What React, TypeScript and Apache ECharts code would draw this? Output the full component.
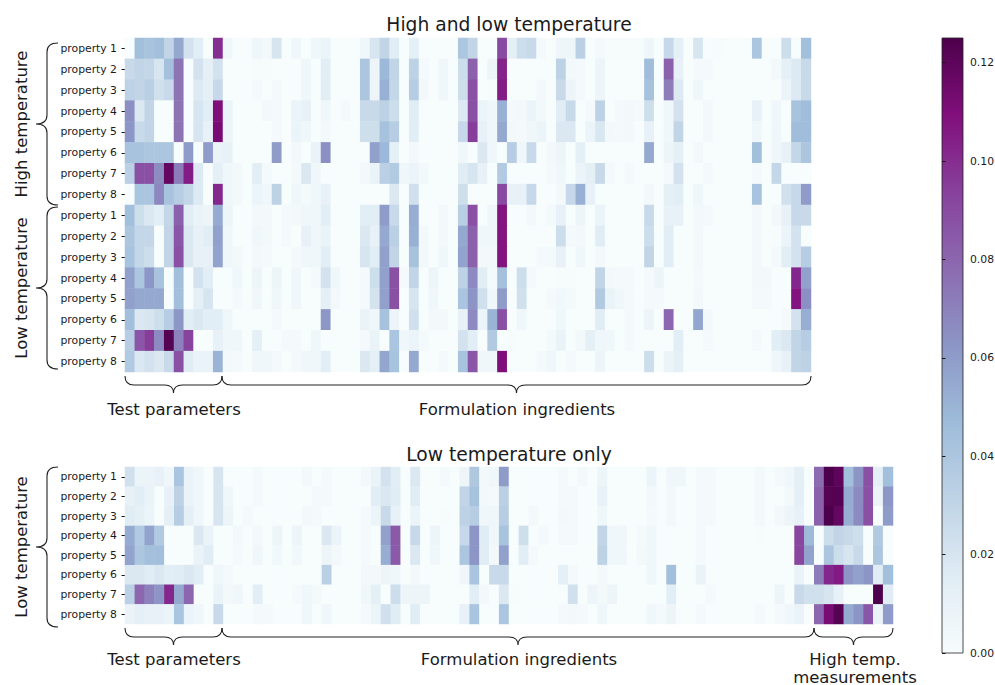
import React, { useEffect, useRef } from 'react';
import * as echarts from 'echarts';

const highTempLabels = ['property 1', 'property 2', 'property 3', 'property 4', 'property 5', 'property 6', 'property 7', 'property 8'];
const lowTempLabels = ['property 1', 'property 2', 'property 3', 'property 4', 'property 5', 'property 6', 'property 7', 'property 8'];
const lowOnlyLabels = ['property 1', 'property 2', 'property 3', 'property 4', 'property 5', 'property 6', 'property 7', 'property 8'];
const colorbarTicks = [0, 0.02, 0.04, 0.06, 0.08, 0.1, 0.12];
const BUPU = ['#f7fcfd', '#e0ecf4', '#bfd3e6', '#9ebcda', '#8c96c6', '#8c6bb1', '#88419d', '#810f7c', '#4d004b'];
const VMAX = 0.125;

// values in thousandths (0.001), 70 columns: 10 test parameters + 60 formulation ingredients
const highTempValues: number[][] = [
  [0,45,42,45,30,55,22,14,0,100,5,0,0,6,3,20,0,5,0,5,8,0,0,0, 5,20,30,15,0,13,0,0,0,0,40,30,0,0,90,12,25,27,2,0,6,6,33,0, 2,1,1,1,1,6,0,28,12,0,20,0,1,0,0,0,40,0,0,25,0,45],
  [27,30,29,20,44,75,0,22,12,22,0,0,0,1,1,0,0,0,5,0,14,0,0,0, 40,7,48,30,0,32,2,0,5,0,25,82,0,7,103,0,0,0,0,0,32,3,2,0, 7,0,0,0,0,46,0,82,11,0,2,2,0,0,0,0,0,0,3,12,17,27],
  [32,30,34,23,27,75,0,17,12,28,0,0,0,2,0,2,0,0,5,0,14,0,0,0, 40,7,52,29,0,35,3,0,5,0,24,88,0,1,105,0,0,0,3,0,27,7,2,0, 7,0,0,0,0,43,0,72,17,0,5,0,0,0,0,0,0,0,0,8,17,27],
  [65,18,30,0,0,75,0,20,14,110,8,0,0,0,3,2,0,8,11,0,5,0,2,0, 27,27,32,25,0,15,0,0,0,0,17,88,8,5,52,2,3,8,3,0,15,27,0,2, 32,0,2,3,2,24,0,5,22,0,0,3,0,0,0,0,11,0,5,0,42,46],
  [62,27,30,0,0,75,0,20,11,112,7,0,0,0,0,2,0,8,5,0,3,0,0,0, 24,24,43,35,0,14,0,0,0,0,28,95,11,5,55,3,2,5,8,0,18,18,0,8, 19,3,2,3,0,11,0,5,30,0,0,3,0,0,0,0,5,0,5,0,46,46],
  [42,42,40,40,40,0,60,0,60,9,11,0,0,0,0,60,0,3,0,9,65,0,0,0, 0,58,48,12,0,3,0,0,0,0,5,0,18,5,0,35,5,27,0,3,7,0,12,0, 0,0,0,0,0,55,0,7,12,0,3,0,0,0,0,0,45,0,5,11,29,40],
  [33,88,88,66,118,72,105,17,0,12,5,3,0,14,2,0,0,2,18,5,0,0,0,0, 3,9,33,37,5,8,3,0,0,0,15,20,11,0,37,0,0,0,0,2,5,0,8,12, 27,2,0,2,0,0,0,2,22,0,0,2,0,0,0,0,2,0,29,0,0,0],
  [0,41,41,68,42,35,29,17,0,102,5,3,0,8,5,32,0,5,2,5,11,0,0,0, 0,0,0,18,0,23,0,0,0,0,24,0,0,0,90,11,11,28,0,0,3,28,52,11, 0,0,0,0,0,3,0,12,14,0,5,0,0,0,0,0,42,0,0,23,28,60],
];

const lowTempValues: number[][] = [
  [45,24,18,14,29,82,14,9,7,54,7,0,0,3,3,0,2,3,5,5,14,0,0,0, 14,14,60,27,0,53,0,0,3,0,34,88,0,5,108,0,0,3,0,2,11,0,7,0, 8,0,0,0,0,27,0,11,11,0,3,2,0,0,0,0,3,0,3,11,28,27],
  [40,29,29,0,30,86,18,11,14,58,5,0,0,5,3,0,2,0,11,5,9,0,0,0, 18,11,55,33,0,52,3,0,3,0,55,82,5,5,108,0,0,0,0,0,25,2,3,0, 15,0,0,0,0,25,0,14,0,0,3,0,0,0,0,0,3,0,1,8,22,0],
  [42,29,25,0,30,88,18,11,11,57,5,3,0,3,2,0,0,2,5,5,14,0,0,0, 20,14,58,30,0,43,3,0,5,0,57,82,3,3,108,0,0,0,2,2,11,0,5,0, 3,0,0,0,0,30,0,14,0,0,3,0,0,0,0,0,3,0,2,14,22,35],
  [58,40,62,42,0,45,0,22,14,0,0,5,0,7,0,7,0,5,0,2,22,5,0,0, 2,24,58,88,2,30,0,7,0,0,32,67,14,2,44,0,25,2,0,0,1,1,0,0, 30,3,2,2,0,2,7,0,0,0,2,0,0,0,0,0,3,3,0,0,102,58],
  [58,55,55,55,0,45,0,12,20,0,0,2,0,5,0,5,0,5,0,0,13,3,0,0, 2,21,58,88,0,20,0,5,0,0,41,63,23,5,60,0,23,0,0,2,4,2,0,0, 38,9,5,2,0,2,2,0,0,0,3,0,0,0,0,0,2,2,0,0,108,65],
  [45,18,20,24,35,62,14,18,14,14,5,0,0,0,0,2,0,0,0,0,62,0,0,0, 9,5,43,7,0,23,0,3,3,0,11,67,8,50,88,0,5,0,0,0,5,0,0,0, 15,0,0,2,0,7,0,80,0,0,56,3,0,0,0,0,0,0,0,2,22,53],
  [35,86,95,67,122,70,93,0,0,11,5,5,0,12,0,0,2,2,0,5,0,0,0,0, 2,9,0,41,5,8,2,0,0,0,22,14,0,38,0,1,0,0,0,2,9,0,3,12, 5,5,0,2,0,0,0,0,14,0,0,2,0,0,0,0,2,0,14,18,30,35],
  [38,18,22,18,27,88,15,9,9,50,3,2,0,5,5,2,0,2,5,5,14,0,0,0, 18,12,56,42,0,55,0,0,2,0,42,86,5,5,110,0,0,0,2,5,0,2,0,0, 7,0,0,0,0,25,0,8,12,0,0,0,0,0,0,0,0,0,5,11,30,32],
];

// 78 columns: 10 test parameters + 60 formulation ingredients + 8 high temp. measurements
const lowOnlyValues: number[][] = [
  [23,8,8,11,5,41,9,5,0,20,0,0,0,2,0,0,0,0,3,0,2,0,0,0,3,9, 22,14,0,18,0,0,2,0,7,39,3,5,60,0,0,0,0,0,2,0,3,0,7,0,0,0, 0,8,0,5,5,0,2,2,0,0,0,0,3,0,2,5,13,0,78,125,120,45,63,88,13,45],
  [11,14,9,0,11,32,9,5,0,20,5,0,0,2,0,0,0,0,0,2,2,0,0,0,0,14, 18,15,0,15,0,0,0,0,30,43,3,2,33,0,0,0,0,0,2,2,0,0,11,0,0,0, 0,3,0,3,0,0,2,2,0,0,0,0,3,0,0,3,13,0,82,122,123,54,67,88,9,62],
  [15,12,8,0,12,35,13,5,0,20,7,0,2,0,0,0,0,0,3,2,0,0,0,0,2,8, 27,11,0,8,0,0,1,0,32,35,5,5,35,0,0,3,0,0,3,2,0,0,5,0,0,0, 0,2,0,3,0,0,2,2,0,0,0,0,3,0,3,7,11,0,82,125,118,53,67,88,0,60],
  [54,38,57,38,0,0,0,18,9,0,0,3,0,3,0,7,0,7,0,0,18,8,0,0,2,0, 58,85,0,28,0,7,0,0,28,63,15,5,42,0,24,0,2,0,2,2,0,0,30,5,5,0, 2,5,0,0,0,0,2,0,0,0,0,0,1,0,0,0,92,47,0,25,30,27,24,0,38,0],
  [57,40,45,45,0,0,0,9,15,0,0,2,0,5,0,4,0,4,0,0,7,3,0,0,2,0, 53,85,0,18,0,5,0,0,40,63,15,3,58,0,14,2,0,0,0,0,0,0,32,5,5,0, 3,5,0,0,0,0,2,0,0,0,0,0,0,0,0,0,92,57,0,40,25,20,27,0,40,0],
  [18,18,15,18,14,15,18,14,0,5,2,0,0,0,0,0,0,0,0,0,33,0,0,0,3,3, 7,5,0,3,0,0,0,0,5,41,0,27,27,0,0,0,0,0,13,2,0,0,3,0,0,0, 0,5,0,45,0,0,9,0,0,0,0,0,0,0,0,0,9,0,72,102,106,63,58,63,15,45],
  [33,80,70,63,102,55,80,0,0,9,3,5,0,14,0,0,0,2,5,2,0,0,0,0,5,12, 0,25,7,7,7,0,0,0,0,14,3,0,18,1,0,0,0,0,0,23,0,7,3,7,0,0, 0,0,0,14,0,0,0,2,0,0,0,0,0,0,7,0,27,23,23,20,11,0,0,0,125,15],
  [9,12,11,11,8,41,8,5,0,27,0,0,0,2,2,0,0,0,5,0,5,0,0,0,2,8, 23,15,0,15,0,0,0,0,11,41,0,0,41,0,0,0,0,0,2,3,2,0,5,0,0,0, 0,5,2,7,0,0,2,0,0,0,0,0,2,0,2,5,9,0,80,112,122,54,63,86,9,60],
];

const FONT = 'DejaVu Sans';
const INK = '#1a1a1a';

function vBrace(xEnd: number, xLine: number, xTip: number, y1: number, y2: number, r: number) {
  const ym = (y1 + y2) / 2;
  return `M${xEnd} ${y1} Q${xLine} ${y1} ${xLine} ${y1 + r} L${xLine} ${ym - r} Q${xLine} ${ym} ${xTip} ${ym} Q${xLine} ${ym} ${xLine} ${ym + r} L${xLine} ${y2 - r} Q${xLine} ${y2} ${xEnd} ${y2}`;
}
function hBrace(x1: number, x2: number, yEnd: number, yLine: number, yTip: number, r: number) {
  const xm = (x1 + x2) / 2;
  return `M${x1} ${yEnd} Q${x1} ${yLine} ${x1 + r} ${yLine} L${xm - r} ${yLine} Q${xm} ${yLine} ${xm} ${yTip} Q${xm} ${yLine} ${xm + r} ${yLine} L${x2 - r} ${yLine} Q${x2} ${yLine} ${x2} ${yEnd}`;
}

export default function App() {
  const ref = useRef<HTMLDivElement>(null);
  useEffect(() => {
    document.body.style.margin = '0';
    const chart = echarts.init(ref.current!, null, { renderer: 'svg' });

    const braces: [string, string][] = [
      ['braceHigh', vBrace(58, 47, 36, 43, 205, 9)],
      ['braceLow', vBrace(58, 47, 36, 207, 369, 9)],
      ['braceLowOnly', vBrace(58, 47, 36, 467, 627, 9)],
      ['braceTest1', hBrace(125, 222, 376, 385, 393, 9)],
      ['braceForm1', hBrace(222, 811, 376, 385, 393, 9)],
      ['braceTest2', hBrace(125, 222, 628, 637, 645, 9)],
      ['braceForm2', hBrace(222, 814, 628, 637, 645, 9)],
      ['braceHT', hBrace(814, 893, 628, 637, 645, 9)],
    ];
    braces.forEach(([n, d]) => echarts.graphic.registerShape(n, echarts.graphic.extendPath(d, {})));

    const topRows = [...highTempValues, ...lowTempValues];
    const topLabels = [...highTempLabels, ...lowTempLabels];
    const topData: number[][] = [];
    topRows.forEach((row, r) => row.forEach((v, c) => topData.push([c, r, v / 1000])));
    const botData: number[][] = [];
    lowOnlyValues.forEach((row, r) => row.forEach((v, c) => botData.push([c, r, v / 1000])));

    const nTop = highTempValues[0].length;
    const nBot = lowOnlyValues[0].length;

    const yAxisCommon = {
      type: 'category' as const,
      inverse: true,
      axisLine: { show: false },
      axisTick: { show: true, length: 3.5, alignWithLabel: true, lineStyle: { color: INK, width: 1 } },
      axisLabel: { fontSize: 10.8, fontFamily: FONT, color: INK, margin: 8 },
      splitLine: { show: false },
    };

    const txt = (text: string, x: number, y: number, size: number, extra: any = {}, lineHeight?: number) => ({
      type: 'text', x, y, ...extra,
      style: { text, fontSize: size, fontFamily: FONT, fill: INK, align: 'center', verticalAlign: 'middle', ...(lineHeight ? { lineHeight } : {}) },
    });

    const stops = BUPU.map((c, i) => ({ offset: i / (BUPU.length - 1), color: c }));

    chart.setOption({
      animation: false,
      backgroundColor: '#fff',
      grid: [
        { left: 125, top: 38, width: 686, height: 334, outerBoundsMode: 'none' },
        { left: 125, top: 467, width: 768, height: 157, outerBoundsMode: 'none' },
        { left: 942, top: 38, width: 21, height: 615, outerBoundsMode: 'none' },
      ],
      xAxis: [
        { type: 'category', gridIndex: 0, data: Array.from({ length: nTop }, (_, i) => String(i)), show: false },
        { type: 'category', gridIndex: 1, data: Array.from({ length: nBot }, (_, i) => String(i)), show: false },
        { type: 'value', gridIndex: 2, show: false, min: 0, max: 1 },
      ],
      yAxis: [
        { ...yAxisCommon, gridIndex: 0, data: topLabels.map((_, i) => String(i)), axisLabel: { ...yAxisCommon.axisLabel, formatter: (v: string) => topLabels[Number(v)] } },
        { ...yAxisCommon, gridIndex: 1, data: lowOnlyLabels },
        {
          type: 'value', gridIndex: 2, min: 0, max: VMAX, position: 'right',
          axisLine: { show: false },
          splitLine: { show: false },
          axisTick: { show: true, length: 3.5, customValues: colorbarTicks, lineStyle: { color: INK, width: 1 } },
          axisLabel: { customValues: colorbarTicks, formatter: (v: number) => v.toFixed(2), fontSize: 10.8, fontFamily: FONT, color: INK, margin: 7 },
        },
      ],
      visualMap: {
        type: 'continuous', show: false, min: 0, max: VMAX, dimension: 2, seriesIndex: [0, 1],
        inRange: { color: BUPU },
      },
      series: [
        { type: 'heatmap', xAxisIndex: 0, yAxisIndex: 0, data: topData, emphasis: { disabled: true }, progressive: 0 },
        { type: 'heatmap', xAxisIndex: 1, yAxisIndex: 1, data: botData, emphasis: { disabled: true }, progressive: 0 },
      ],
      graphic: [
        txt('High and low temperature', 509, 24, 18.7),
        txt('Low temperature only', 509, 454, 18.7),
        txt('High temperature', 21, 124, 16.5, { rotation: Math.PI / 2 }),
        txt('Low temperature', 21, 288, 16.5, { rotation: Math.PI / 2 }),
        txt('Low temperature', 21, 547, 16.5, { rotation: Math.PI / 2 }),
        txt('Test parameters', 174, 409, 16.5),
        txt('Formulation ingredients', 517, 409, 16.5),
        txt('Test parameters', 174, 659, 16.5),
        txt('Formulation ingredients', 519, 659, 16.5),
        txt('High temp.', 855, 659, 16.5),
        txt('measurements', 855, 677, 16.5, {}, 13),
        ...braces.map(([n]) => ({ type: n, style: { stroke: '#222', fill: 'none', lineWidth: 1.1 } })),
        {
          type: 'rect', shape: { x: 942, y: 38, width: 21, height: 615 },
          style: { fill: new echarts.graphic.LinearGradient(0, 1, 0, 0, stops), stroke: '#222', lineWidth: 0.8 },
        },
      ],
    });
    return () => chart.dispose();
  }, []);
  return <div ref={ref} style={{ width: 995, height: 685 }} />;
}
